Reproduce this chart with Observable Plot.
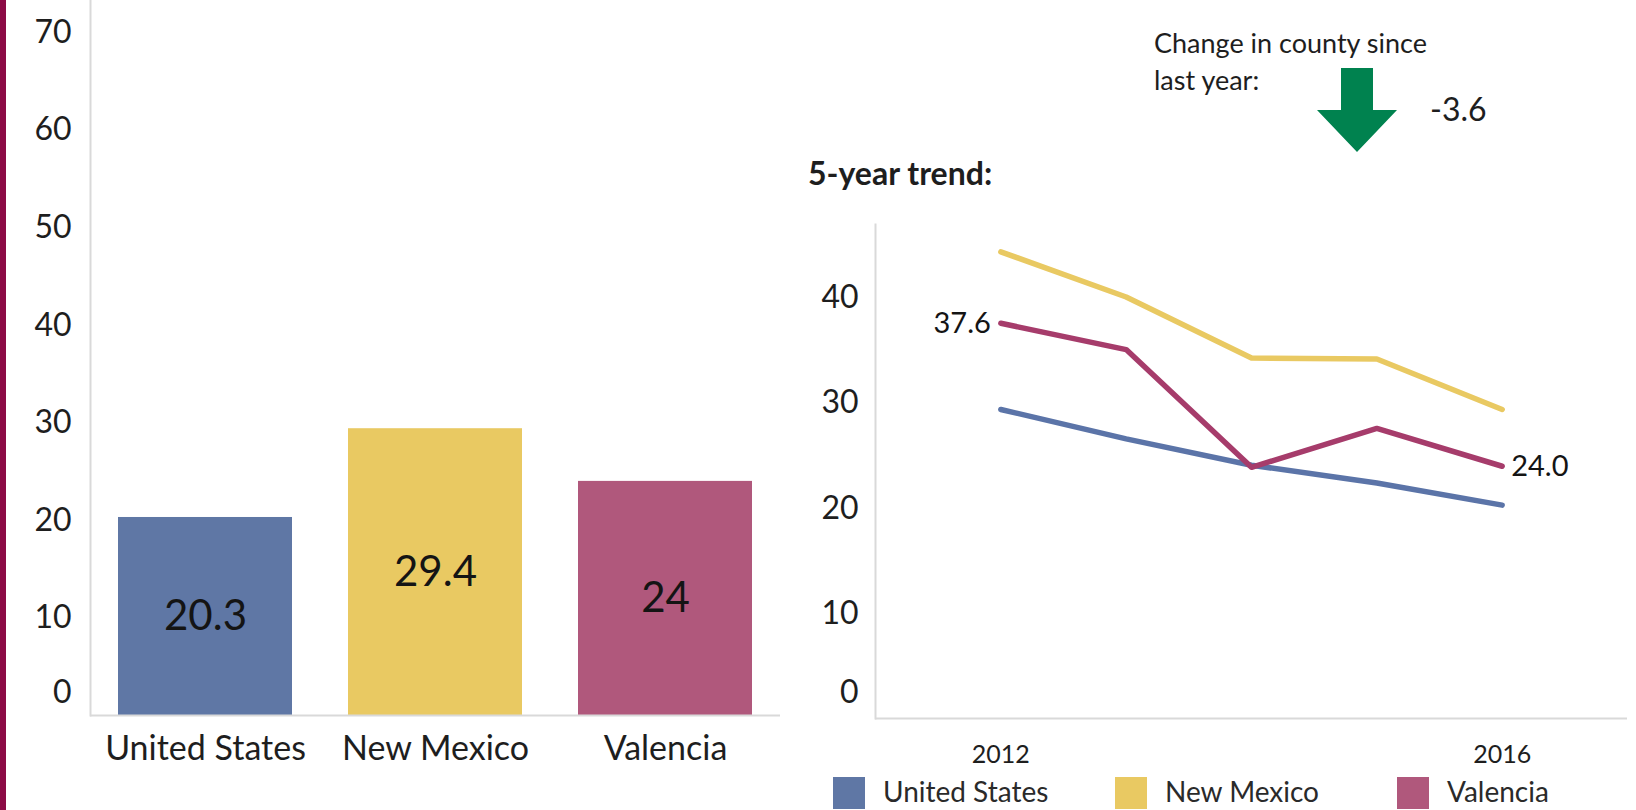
<!DOCTYPE html>
<html>
<head>
<meta charset="utf-8">
<script src="https://cdn.jsdelivr.net/npm/d3@7"></script>
<script src="https://cdn.jsdelivr.net/npm/@observablehq/plot@0.6"></script>
<style>
  html, body { margin: 0; padding: 0; background: #fff; overflow: hidden; }
  #page { position: relative; width: 1636px; height: 810px; font-family: Lato, sans-serif; color: #1e1e1e; }
  #strip { position: absolute; left: 0; top: 0; width: 6px; height: 810px; background: #8c0b45; }
  #left { position: absolute; left: 0; top: 0; }
  #right { position: absolute; left: 800px; top: 0; }
  #overlay { position: absolute; left: 0; top: 0; pointer-events: none; }
</style>
</head>
<body>
<div id="page">
  <div id="strip"></div>
  <div id="left"></div>
  <div id="right"></div>
  <svg id="overlay" width="1636" height="810"></svg>
</div>
<script>
// ---- data ----
const categories = ["United States", "New Mexico", "Valencia"];
const currentValues = [20.3, 29.4, 24];
const barColors = ["#5f77a5", "#e9c962", "#b0587c"];
const lineColors = ["#5b74a8", "#e9c962", "#a63c6b"];
const years = [2012, 2013, 2014, 2015, 2016];
const usTrend = [29.4, 26.6, 24.1, 22.4, 20.3];
const nmTrend = [44.4, 40.1, 34.3, 34.2, 29.4];
const valenciaTrend = [37.6, 35.1, 23.9, 27.6, 24.0];
const barTicks = [0, 10, 20, 30, 40, 50, 60, 70];
const lineTicks = [0, 10, 20, 30, 40];
const yearTicks = [2012, 2016];
const trendTitle = "5-year trend:";
const changeLabel = ["Change in county since", "last year:"];

const axisColor = "#d9d9d9";
const textColor = "#1e1e1e";

// ---- left bar chart ----
const barData = categories.map((name, i) => ({name, value: currentValues[i], color: barColors[i]}));

const left = Plot.plot({
  width: 800, height: 810,
  marginLeft: 90, marginRight: 20, marginTop: 0, marginBottom: 95,
  style: {fontFamily: "Lato", color: textColor, background: "transparent"},
  x: {domain: categories, paddingInner: 0.243, paddingOuter: 0.12, label: null},
  y: {domain: [0, 73.3], label: null},
  color: {type: "identity"},
  marks: [
    Plot.barY(barData, {x: "name", y: "value", fill: "color"}),
    Plot.frame({anchor: "left", stroke: axisColor, strokeWidth: 2}),
    Plot.ruleY([0], {stroke: axisColor, strokeWidth: 2}),
    Plot.text(barData, {x: "name", y: d => d.value / 2, text: d => String(d.value), fontSize: 42, fill: "#141414"}),
    Plot.axisY(barTicks.filter(t => t > 0), {tickSize: 0, tickPadding: 19, fontSize: 32, label: null}),
    Plot.axisY(barTicks.filter(t => t === 0), {tickSize: 0, tickPadding: 19, fontSize: 32, dy: -23, label: null}),
    Plot.axisX({tickSize: 0, tickPadding: 20, fontSize: 34, label: null})
  ]
});
document.getElementById("left").appendChild(left);

// ---- right line chart ----
const series = [
  {name: categories[0], values: usTrend, color: lineColors[0]},
  {name: categories[1], values: nmTrend, color: lineColors[1]},
  {name: categories[2], values: valenciaTrend, color: lineColors[2]}
];
const lineData = series.flatMap(s => years.map((year, i) => ({series: s.name, year, value: s.values[i], color: s.color})));
const valRows = lineData.filter(d => d.series === categories[2]);
const fmt1 = d3.formatLocale({decimal: ".", thousands: ",", grouping: [3], currency: ["$", ""], minus: "-"}).format(".1f");

const right = Plot.plot({
  width: 836, height: 810,
  marginLeft: 75, marginRight: 9, marginTop: 224, marginBottom: 92,
  style: {fontFamily: "Lato", color: textColor, background: "transparent"},
  x: {domain: [2011, 2017], label: null},
  y: {domain: [0, 47], label: null},
  color: {type: "identity"},
  marks: [
    Plot.frame({anchor: "left", stroke: axisColor, strokeWidth: 2}),
    Plot.ruleY([0], {stroke: axisColor, strokeWidth: 2}),
    Plot.line(lineData, {x: "year", y: "value", z: "series", stroke: "color", strokeWidth: 5.5, strokeLinecap: "round", strokeLinejoin: "round"}),
    Plot.text([valRows[0]], {x: "year", y: "value", text: d => fmt1(d.value), textAnchor: "end", dx: -10, fontSize: 29, fill: "#141414"}),
    Plot.text([valRows[valRows.length - 1]], {x: "year", y: "value", text: d => fmt1(d.value), textAnchor: "start", dx: 9, fontSize: 29, fill: "#141414"}),
    Plot.axisY(lineTicks.filter(t => t > 0), {tickSize: 0, tickPadding: 17, fontSize: 32, label: null}),
    Plot.axisY(lineTicks.filter(t => t === 0), {tickSize: 0, tickPadding: 17, fontSize: 32, dy: -26, label: null}),
    Plot.axisX(yearTicks, {tickSize: 0, tickPadding: 27, fontSize: 25, tickFormat: d => String(d), label: null})
  ]
});
document.getElementById("right").appendChild(right);

// ---- annotations & legend (overlay) ----
const ov = d3.select("#overlay").style("font-family", "Lato").attr("fill", textColor);
ov.append("text").attr("x", 1154).attr("y", 53).attr("font-size", 27).text(changeLabel[0]);
ov.append("text").attr("x", 1154).attr("y", 90).attr("font-size", 27).text(changeLabel[1]);
ov.append("polygon")
  .attr("points", "1341,68 1373,68 1373,110 1397,110 1357,152 1317,110 1341,110")
  .attr("fill", "#00824f");
const change = valenciaTrend[valenciaTrend.length - 1] - valenciaTrend[valenciaTrend.length - 2];
ov.append("text").attr("x", 1430).attr("y", 121).attr("font-size", 32).text(fmt1(change));
ov.append("text").attr("x", 808).attr("y", 185).attr("font-size", 32).attr("font-weight", 700).text(trendTitle);

const legendX = [833, 1115, 1397];
categories.forEach((name, i) => {
  ov.append("rect").attr("x", legendX[i]).attr("y", 777).attr("width", 32).attr("height", 32).attr("fill", barColors[i]);
  ov.append("text").attr("x", legendX[i] + 50).attr("y", 802).attr("font-size", 28).attr("fill", "#2a2a2a").text(name);
});
</script>
</body>
</html>
